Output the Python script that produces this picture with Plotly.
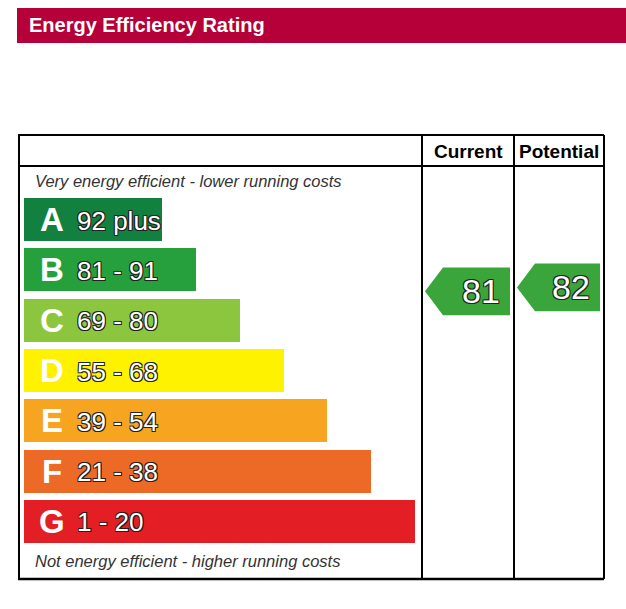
import plotly.graph_objects as go

W, H = 626, 609
OFF = 0

# ---- data ----
bands = ["A", "B", "C", "D", "E", "F", "G"]
band_ranges = ["92 plus", "81 - 91", "69 - 80", "55 - 68", "39 - 54", "21 - 38", "1 - 20"]
band_low = [92, 81, 69, 55, 39, 21, 1]
band_high = [100, 91, 80, 68, 54, 38, 20]
bar_length = [138, 172, 216, 260, 303, 347, 391]
band_colors = ["#12803f", "#26a03c", "#8cc63f", "#fff200", "#f7a521", "#ec6a25", "#e31e24"]
columns = ["Current", "Potential"]
ratings = [81, 82]
arrow_color = "#3aa53a"

# ---- geometry helpers ----
pitch = 50.33          # px per band
a_center_px = 219.5    # pixel y of band A centre
bar_w = 0.854          # bar thickness in band units
x0 = 24                # bar start (px units on x axis)

def py(p):
    return 1 - (p - OFF) / H

def px(p):
    return (p - OFF) / W

y_top = (OFF - a_center_px) / pitch
y_bot = (H + OFF - a_center_px) / pitch

fig = go.Figure()

fig.add_trace(go.Bar(
    y=list(range(len(bands))), x=bar_length, base=x0, orientation="h",
    width=bar_w, marker=dict(color=band_colors, line=dict(width=0)),
    hoverinfo="skip", showlegend=False,
))

outline = "1px 1px 0 #222, -1px -1px 0 #222, 1px -1px 0 #222, -1px 1px 0 #222"
ann = []
for i, (b, r) in enumerate(zip(bands, band_ranges)):
    ann.append(dict(x=52, y=i, xref="x", yref="y", text="<b>%s</b>" % b, showarrow=False,
                    font=dict(family="Liberation Sans, Arial", size=33, color="white"),
                    xanchor="center", yanchor="middle"))
    ann.append(dict(x=75, y=i + 0.02, xref="x", yref="y", text=r, showarrow=False,
                    font=dict(family="Liberation Sans, Arial", size=26, color="white", shadow=outline),
                    xanchor="left", yanchor="middle"))

# arrows
col_left = [422, 514]
col_right = [514, 604]
for k, val in enumerate(ratings):
    bi = next(i for i in range(len(bands)) if band_low[i] <= val <= band_high[i])
    frac = (val - band_low[bi]) / (band_high[bi] - band_low[bi] + 1)
    yc = bi + bar_w / 2 - frac * bar_w
    hh = 0.475
    tip = col_left[k] + 3
    rs = tip + 18
    re = col_right[k] - 4
    fig.add_trace(go.Scatter(
        x=[tip, rs, re, re, rs, tip], y=[yc, yc - hh, yc - hh, yc + hh, yc + hh, yc],
        fill="toself", fillcolor=arrow_color, mode="lines", line=dict(width=0),
        hoverinfo="skip", showlegend=False,
    ))
    ann.append(dict(x=re - 8, y=yc, xref="x", yref="y", text=str(val), showarrow=False,
                    font=dict(family="Liberation Sans, Arial", size=34, color="white", shadow=outline),
                    xanchor="right", yanchor="middle"))

# header texts
for k, c in enumerate(columns):
    ann.append(dict(x=px((col_left[k] + col_right[k]) / 2), y=py(151), xref="paper", yref="paper",
                    text="<b>%s</b>" % c, showarrow=False,
                    font=dict(family="Liberation Sans, Arial", size=19, color="black"),
                    xanchor="center", yanchor="middle"))

ann.append(dict(x=px(27), y=py(25), xref="paper", yref="paper", text="<b>Energy Efficiency Rating</b>",
                showarrow=False, font=dict(family="Liberation Sans, Arial", size=20, color="white"),
                xanchor="left", yanchor="middle"))
ann.append(dict(x=px(33), y=py(181), xref="paper", yref="paper",
                text="<i>Very energy efficient - lower running costs</i>", showarrow=False,
                font=dict(family="Liberation Sans, Arial", size=16.5, color="#333"),
                xanchor="left", yanchor="middle"))
ann.append(dict(x=px(33), y=py(561), xref="paper", yref="paper",
                text="<i>Not energy efficient - higher running costs</i>", showarrow=False,
                font=dict(family="Liberation Sans, Arial", size=16.5, color="#333"),
                xanchor="left", yanchor="middle"))

shapes = []
shapes.append(dict(type="rect", xref="paper", yref="paper", x0=px(17), x1=1, y0=py(43), y1=py(8),
                   fillcolor="#b5003a", line=dict(width=0), layer="below"))
lw = 2
def hline(yv, xa, xb, w=lw):
    shapes.append(dict(type="line", xref="paper", yref="paper", x0=px(xa), x1=px(xb), y0=py(yv), y1=py(yv),
                       line=dict(color="black", width=w)))
def vline(xv, ya, yb, w=lw):
    shapes.append(dict(type="line", xref="paper", yref="paper", x0=px(xv), x1=px(xv), y0=py(ya), y1=py(yb),
                       line=dict(color="black", width=w)))
hline(135, 18, 604)
hline(166, 18, 604)
hline(579, 18, 604, 2.5)
vline(19, 135, 579)
vline(422, 135, 579)
vline(514, 135, 579)
vline(604, 135, 579)

fig.update_layout(
    width=W, height=H, margin=dict(l=0, r=0, t=0, b=0),
    paper_bgcolor="white", plot_bgcolor="white",
    xaxis=dict(range=[OFF, W + OFF], visible=False, fixedrange=True),
    yaxis=dict(range=[y_bot, y_top], visible=False, fixedrange=True),
    annotations=ann, shapes=shapes, bargap=0,
)

fig.write_html("out.html", config={"displayModeBar": False, "staticPlot": True},
               post_script="document.body.style.margin='0';document.documentElement.style.overflow='hidden';")
